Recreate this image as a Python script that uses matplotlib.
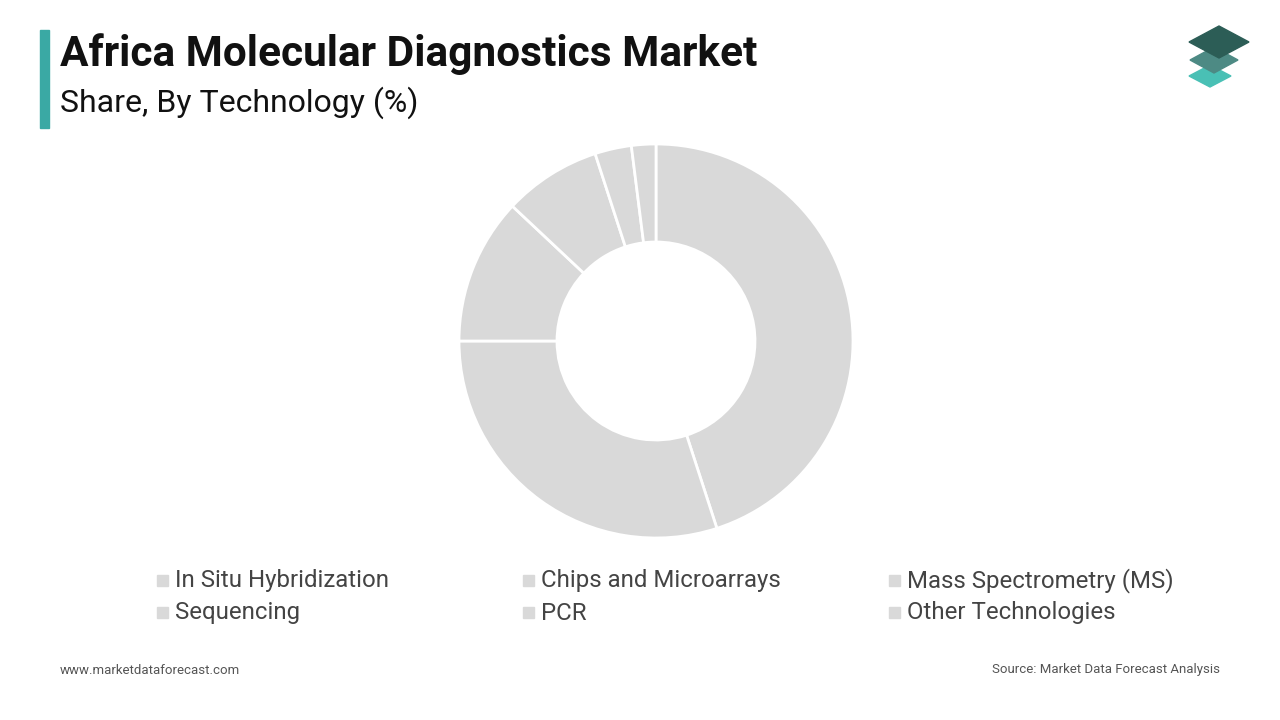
import matplotlib
matplotlib.use("Agg")
import matplotlib.pyplot as plt
from matplotlib.patches import Polygon, Rectangle

categories = ["In Situ Hybridization", "Chips and Microarrays", "Mass Spectrometry (MS)",
              "Sequencing", "PCR", "Other Technologies"]
shares = [45, 30, 12, 8, 3, 2]
slice_color = "#d9d9d9"

fig = plt.figure(figsize=(12.8, 7.2), dpi=100)
fig.patch.set_facecolor("white")

# header
fig.add_artist(Rectangle((40/1280, 1-128/720), 9/1280, 98/720, color="#3aa9a4", transform=fig.transFigure))
fig.text(60/1280, 1-54/720, "Africa Molecular Diagnostics Market", fontsize=30.5, fontweight="bold",
         family="Roboto", va="center", color="#111111")
fig.text(60/1280, 1-103/720, "Share, By Technology (%)", fontsize=23, family="Roboto", va="center", color="#111111")

# logo
def diamond(cx, cy, w, h, color):
    pts = [(cx - w/2, cy), (cx, cy + h/2), (cx + w/2, cy), (cx, cy - h/2)]
    fig.add_artist(Polygon([(x/1280, 1 - y/720) for x, y in pts], closed=True, color=color, transform=fig.transFigure))
diamond(1210, 76, 42, 22, "#49c0b5")
diamond(1214, 60, 48, 26, "#4d8a84")
diamond(1219, 42, 60, 32, "#2c5d56")

# donut
ax = fig.add_axes([(656-200)/1280, 1-(341+200)/720, 400/1280, 400/720])
ax.pie(shares, colors=[slice_color]*len(shares), startangle=90, counterclock=False,
       wedgeprops=dict(width=0.49, edgecolor="white", linewidth=2), radius=0.985)
ax.set_xlim(-1, 1); ax.set_ylim(-1, 1); ax.set_aspect("equal")
ax.axis("off")

# legend
xs = [157, 523, 889]
ys = [581, 613]
for i, c in enumerate(categories):
    x = xs[i % 3]; y = ys[i // 3]
    fig.add_artist(Rectangle((x/1280, 1-(y+5)/720), 11/1280, 11/720, color=slice_color, transform=fig.transFigure))
    fig.text((x+18)/1280, 1-y/720, c, fontsize=17.3, family="Roboto", va="center", color="#444444")

fig.text(60/1280, 1-670/720, "www.marketdataforecast.com", fontsize=9.5, family="Roboto", va="center", color="#555555")
fig.text(1220/1280, 1-670/720, "Source: Market Data Forecast Analysis", fontsize=9.5, family="Roboto",
         va="center", ha="right", color="#555555")

fig.savefig("out.png", dpi=100)
